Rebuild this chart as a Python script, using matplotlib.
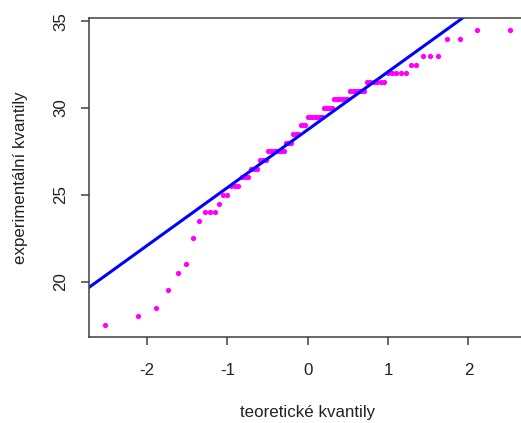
import numpy as np
import matplotlib
matplotlib.use("Agg")
import matplotlib.pyplot as plt
from statistics import NormalDist

# Sorted sample values (experimental quantiles)
sample_values = [
    17.5, 18.0, 18.5, 19.5, 20.5, 21.0, 22.5, 23.5,
    24.0, 24.0, 24.0, 24.5, 25.0, 25.0,
    25.5, 25.5, 25.5, 26.0, 26.0, 26.0,
    26.5, 26.5, 26.5, 27.0, 27.0, 27.0,
    27.5, 27.5, 27.5, 27.5, 27.5, 27.5, 27.5,
    28.0, 28.0, 28.0, 28.5, 28.5, 28.5,
    29.0, 29.0, 29.0,
    29.5, 29.5, 29.5, 29.5, 29.5, 29.5, 29.5,
    30.0, 30.0, 30.0, 30.0,
    30.5, 30.5, 30.5, 30.5, 30.5, 30.5,
    31.0, 31.0, 31.0, 31.0, 31.0, 31.0,
    31.5, 31.5, 31.5, 31.5, 31.5, 31.5,
    32.0, 32.0, 32.0, 32.0, 32.0,
    32.5, 32.5, 33.0, 33.0, 33.0,
    34.0, 34.0, 34.5, 34.5,
]
x_ticks = [-2, -1, 0, 1, 2]
y_ticks = [20, 25, 30, 35]
x_title = "teoretické kvantily"
y_title = "experimentální kvantily"

plt.rcParams["font.family"] = ["Liberation Sans", "DejaVu Sans"]

y = np.sort(np.asarray(sample_values))
n = len(y)
nd = NormalDist()
# plotting positions (i - 0.5) / n and their normal quantiles
probs = (np.arange(1, n + 1) - 0.5) / n
x = np.array([nd.inv_cdf(p) for p in probs])

# reference line through the first and third quartiles
q_y = np.quantile(y, [0.25, 0.75])
q_x = np.array([nd.inv_cdf(0.25), nd.inv_cdf(0.75)])
slope = (q_y[1] - q_y[0]) / (q_x[1] - q_x[0])
intercept = q_y[0] - slope * q_x[0]

W, H = 521, 423
fig = plt.figure(figsize=(W / 100, H / 100), dpi=100)
ax = fig.add_axes([89 / W, (H - 337) / H, 437.4 / W, 319 / H])

ax.plot(x, y, "o", color="#FF00FF", ms=3.8, mec="none")
ax.margins(x=0.04, y=0.04)
ax.axline((0, intercept), slope=slope, color="#0000FF", lw=2.2)

ax.set_xticks(x_ticks)
ax.set_xticklabels([str(t) for t in x_ticks])
ax.set_yticks(y_ticks)
ax.set_yticklabels([str(t) for t in y_ticks])
plt.setp(ax.get_yticklabels(), rotation=90, va="center")

for s in ax.spines.values():
    s.set_color("#404040")
    s.set_linewidth(1.1)
ax.tick_params(axis="both", direction="out", length=6, width=1.1,
               color="#404040", labelsize=12.2, labelcolor="#222222")
ax.tick_params(axis="x", pad=13)
ax.tick_params(axis="y", pad=9)

fig.text(307.5 / W, 1 - 412 / H, x_title, ha="center", va="center",
         fontsize=12.2, color="#222222")
fig.text(21 / W, 1 - 177.5 / H, y_title, ha="center", va="center",
         rotation=90, fontsize=12.2, color="#222222")

fig.savefig("out.png", dpi=100)
